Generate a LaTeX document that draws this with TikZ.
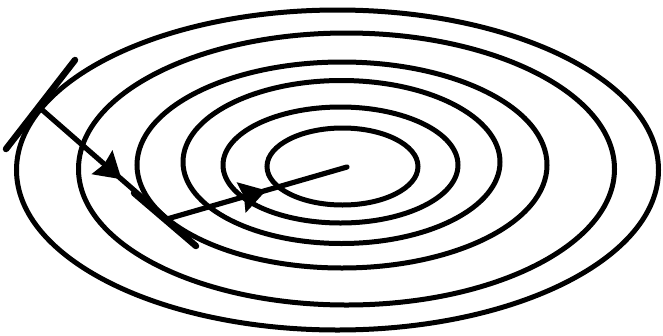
\documentclass[tikz,border=0pt]{standalone}
\usetikzlibrary{decorations.markings}
\begin{document}
\begin{tikzpicture}[x=1pt,y=-1pt,
  contour/.style={line width=5pt},
  tangentline/.style={line width=6.5pt, line cap=round},
  steppath/.style={line width=5.2pt, line cap=round, postaction={decorate}},
  midarrow/.style={decoration={markings, mark=at position #1 with {\fill[line join=miter] (2pt,0pt) -- (-24pt,16pt) -- (-21pt,0pt) -- (-24pt,-16pt) -- cycle;}}}]
\useasboundingbox (0,0) rectangle (663,335);
% level curves
\draw[contour] (337.5,170) ellipse [x radius=321pt, y radius=160pt];
\draw[contour] (346.5,169) ellipse [x radius=268pt, y radius=136pt];
\draw[contour] (342,165) ellipse [x radius=205pt, y radius=103pt];
\draw[contour] (341.5,162) ellipse [x radius=158.5pt, y radius=81.5pt];
\draw[contour] (340.5,165) ellipse [x radius=117.5pt, y radius=58pt];
\draw[contour] (342.5,166.5) ellipse [x radius=75.5pt, y radius=38.5pt];
% points
\coordinate (p1) at (40,108);
\coordinate (p2) at (167,219);
\coordinate (p3) at (347,167);
\coordinate (t1a) at (6,149);
\coordinate (t1b) at (75,60);
\coordinate (t2a) at (134,193);
\coordinate (t2b) at (196,246);
% tangents
\draw[tangentline] (t1a) -- (t1b);
\draw[tangentline] (t2a) -- (t2b);
% steps
\draw[steppath, midarrow=0.63] (p1) -- (p2);
\draw[steppath, midarrow=0.54] (p2) -- (p3);
\end{tikzpicture}
\end{document}
